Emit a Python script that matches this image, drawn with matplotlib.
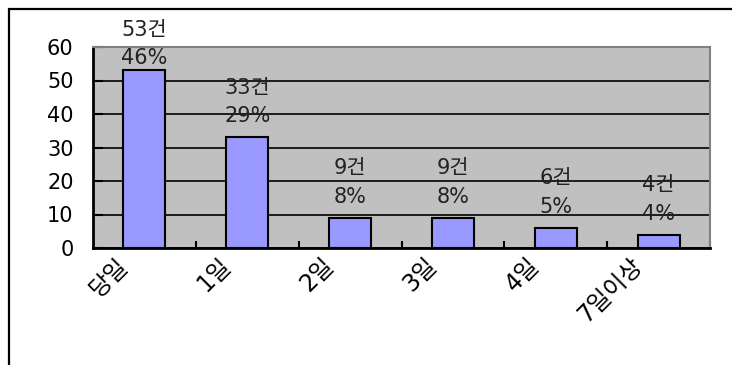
import numpy as np
import matplotlib
matplotlib.use('Agg')
import matplotlib.pyplot as plt
import matplotlib.transforms as mtransforms
from matplotlib.patches import Rectangle

plt.rcParams['font.family'] = ['DejaVu Sans', 'Noto Sans CJK KR']

# 데이터
categories = ['당일', '1일', '2일', '3일', '4일', '7일이상']
counts = [53, 33, 9, 9, 6, 4]
percents = ['46%', '29%', '8%', '8%', '5%', '4%']
yticks = [0, 10, 20, 30, 40, 50, 60]

fig = plt.figure(figsize=(7.32, 3.65), dpi=100)
ax = fig.add_axes([93 / 732, 117 / 365, 617 / 732, 201 / 365])

# 바깥 테두리 (오른쪽/아래는 그림 밖으로 잘림)
fig.patches.append(Rectangle((9 / 732, -0.2), 1.2, (365 - 9) / 365 + 0.2,
                             transform=fig.transFigure, fill=False,
                             edgecolor='black', linewidth=1.6))

ax.set_facecolor('#c0c0c0')
x = np.arange(len(categories))
ax.bar(x, counts, width=0.41, color='#9999ff', edgecolor='black', linewidth=1.5, zorder=3)

for i, (c, p) in enumerate(zip(counts, percents)):
    # 맨 위 막대 라벨은 차트 안에 들어오도록 조금 낮춤
    off = 11 if c < 50 else 2
    ax.annotate('%d건\n%s' % (c, p), xy=(i, c), xytext=(0, off), textcoords='offset pixels',
                ha='center', va='bottom', fontsize=15, linespacing=1.55,
                color='#222222', annotation_clip=False, zorder=4)

ax.set_xlim(-0.5, len(categories) - 0.5)
ax.set_ylim(0, 60)
ax.set_yticks(yticks)
ax.set_yticklabels([str(v) for v in yticks], fontsize=15)
ax.yaxis.grid(True, color='black', linewidth=1.2)
ax.set_axisbelow(True)

ax.set_xticks(x)
ax.set_xticklabels(categories, rotation=45, ha='right', fontsize=17)
ax.set_xticks(np.arange(0.5, len(categories)), minor=True)
ax.tick_params(axis='x', which='major', length=0, pad=4)
ax.tick_params(axis='x', which='minor', direction='in', length=5, width=1.5)
ax.tick_params(axis='y', direction='in', length=7, width=1.5, pad=14)

# 기울어진 라벨을 왼쪽으로 조금 이동
shift = mtransforms.ScaledTranslation(-12 / 100, 0, fig.dpi_scale_trans)
for lab in ax.get_xticklabels():
    lab.set_transform(lab.get_transform() + shift)

ax.spines['left'].set_linewidth(2)
ax.spines['bottom'].set_linewidth(2)
ax.spines['top'].set_color('#808080')
ax.spines['right'].set_color('#808080')
ax.spines['top'].set_linewidth(1.5)
ax.spines['right'].set_linewidth(1.5)

plt.savefig('out.png', dpi=100)
